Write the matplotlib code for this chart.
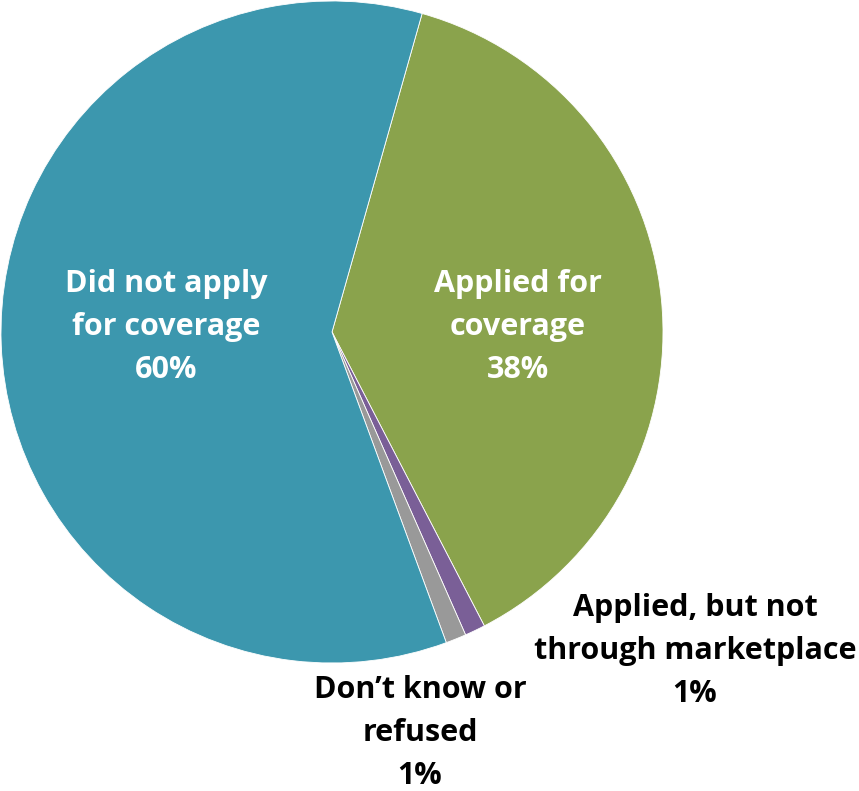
import matplotlib.pyplot as plt

labels = ['Applied for\ncoverage', 'Applied, but not\nthrough marketplace',
          "Don\u2019t know or\nrefused", 'Did not apply\nfor coverage']
values = [38, 1, 1, 60]
colors = ['#8AA34C', '#7A5F97', '#999999', '#3C97AE']
text_colors = ['white', 'black', 'black', 'white']

W, H = 859, 791
fig = plt.figure(figsize=(W / 100, H / 100), dpi=100)
ax = fig.add_axes([0, 0, 1, 1])

cx, cy, r = 332, H - 332, 331
ax.pie(values, colors=colors, startangle=74.2, counterclock=False,
       center=(cx, cy), radius=r, frame=True,
       wedgeprops=dict(edgecolor='white', linewidth=0.6))
ax.set_xlim(0, W)
ax.set_ylim(0, H)
ax.axis('off')

# label anchors, in pixels from the top left
label_pos = [(518, 327), (695, 651), (420, 733), (166, 327)]
for lab, v, (px, py), tc in zip(labels, values, label_pos, text_colors):
    ax.text(px, H - py, f'{lab}\n{v}%', ha='center', va='center',
            color=tc, fontsize=22, fontweight='bold', family='Open Sans',
            linespacing=1.55)

fig.savefig('out.png', dpi=100)
